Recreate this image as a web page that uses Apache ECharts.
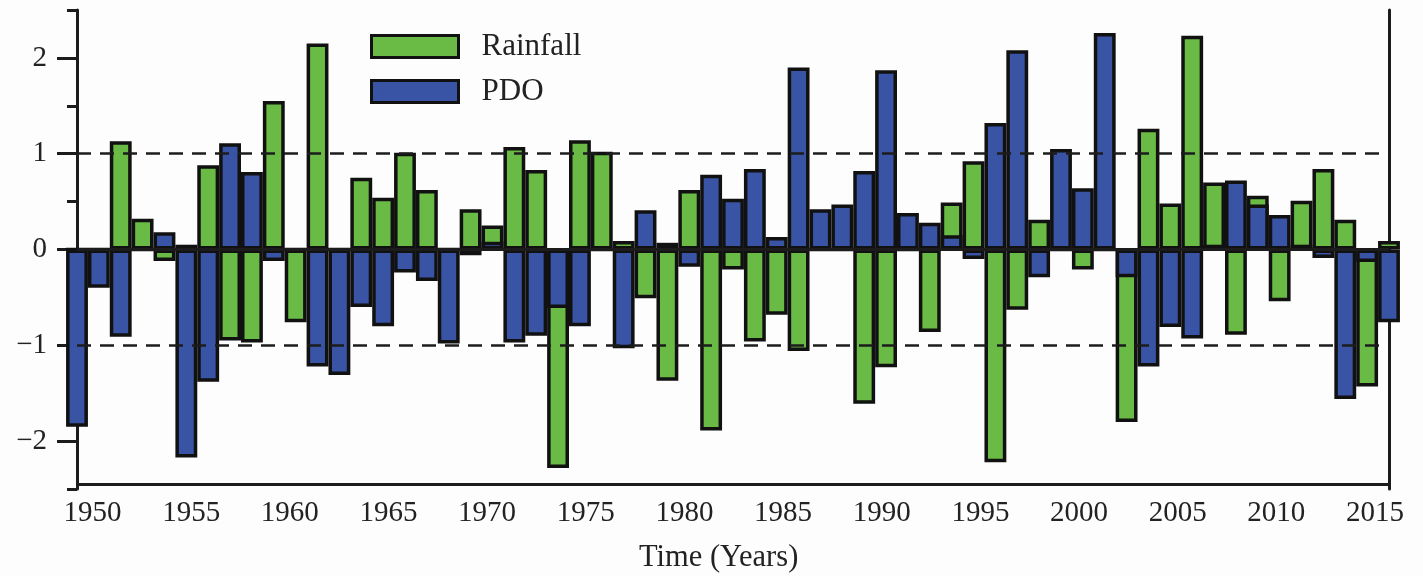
<!DOCTYPE html>
<html>
<head>
<meta charset="utf-8">
<title>Rainfall and PDO anomalies</title>
<script src="https://cdn.jsdelivr.net/npm/echarts@6/dist/echarts.min.js"></script>
<style>
  html, body { margin: 0; padding: 0; background: #fdfdfd; }
  #chart { width: 1423px; height: 576px; }
</style>
</head>
<body>
<div id="chart"></div>
<script>
// Annual bars, one per year
const years = [
  1950, 1951, 1952, 1953, 1954, 1955, 1956, 1957, 1958, 1959,
  1960, 1961, 1962, 1963, 1964, 1965, 1966, 1967, 1968, 1969,
  1970, 1971, 1972, 1973, 1974, 1975, 1976, 1977, 1978, 1979,
  1980, 1981, 1982, 1983, 1984, 1985, 1986, 1987, 1988, 1989,
  1990, 1991, 1992, 1993, 1994, 1995, 1996, 1997, 1998, 1999,
  2000, 2001, 2002, 2003, 2004, 2005, 2006, 2007, 2008, 2009,
  2010
];

// Standardised rainfall anomaly
const rainfall = [
  0, 0, 1.13, 0.32, -0.12, 0.05, 0.88, -0.95, -0.97, 1.55,
  -0.76, 2.15, 0, 0.75, 0.54, 1.01, 0.62, 0, 0.42, 0.25,
  1.07, 0.83, -2.28, 1.14, 1.02, 0.09, -0.51, -1.37, 0.62, -1.89,
  -0.21, -0.96, -0.68, -1.06, 0, 0, -1.61, -1.23, 0, -0.86,
  0.49, 0.92, -2.22, -0.63, 0.31, 0, -0.21, 0, -1.80, 1.26,
  0.48, 2.23, 0.70, -0.89, 0.56, -0.54, 0.51, 0.84, 0.31, -1.43,
  0.09
];

// Pacific Decadal Oscillation index
const pdo = [
  -1.85, -0.40, -0.91, 0, 0.18, -2.17, -1.38, 1.11, 0.81, -0.12,
  0, -1.22, -1.31, -0.60, -0.80, -0.24, -0.33, -0.98, -0.06, 0.08,
  -0.97, -0.90, -0.61, -0.80, 0, -1.03, 0.41, 0.07, -0.18, 0.78,
  0.53, 0.84, 0.13, 1.90, 0.42, 0.47, 0.82, 1.87, 0.38, 0.28,
  0.15, -0.10, 1.32, 2.08, -0.29, 1.05, 0.64, 2.26, -0.29, -1.22,
  -0.81, -0.93, 0.05, 0.72, 0.47, 0.36, 0.05, -0.09, -1.56, -0.13,
  -0.76
];

// Time axis tick labels
const timeTicks = [1950, 1955, 1960, 1965, 1970, 1975, 1980, 1985, 1990, 1995, 2000, 2005, 2010, 2015];
// Value axis labels
const valueTicks = [-2, -1, 0, 1, 2];
// Reference levels
const thresholds = [1, -1];

const INK = '#1c1c1c';
const FONT = '"Liberation Serif", "Times New Roman", serif';
const GREEN = '#6abb46';
const BLUE = '#3954a4';

const chart = echarts.init(document.getElementById('chart'), null, { renderer: 'canvas' });

const barStyle = (color) => ({ color: color, borderColor: '#111', borderWidth: 3.5 });

chart.setOption({
  backgroundColor: '#fdfdfd',
  animation: false,
  title: {
    text: 'Time (Years)',
    left: 639,
    top: 542,
    padding: 0,
    textStyle: { fontFamily: FONT, fontSize: 30.5, fontWeight: 'normal', color: '#222' }
  },
  legend: {
    orient: 'vertical',
    left: 370,
    top: 31,
    padding: 0,
    itemWidth: 87,
    itemHeight: 22,
    itemGap: 14,
    icon: 'rect',
    selectedMode: false,
    itemStyle: { borderColor: '#111', borderWidth: 3 },
    textStyle: { fontFamily: FONT, fontSize: 31, color: '#222', padding: [0, 0, 0, 18] },
    data: ['Rainfall', 'PDO']
  },
  grid: [
    { left: 77, right: 34, top: 10, bottom: 87 },
    // frame for the printed time labels
    { left: 92.5, right: 48, top: 10, bottom: 87 }
  ],
  xAxis: [
    {
      type: 'category',
      gridIndex: 0,
      data: years,
      boundaryGap: false,
      position: 'top',
      axisLine: { show: true, lineStyle: { color: INK, width: 3 } },
      axisTick: { show: false },
      axisLabel: { show: false },
      splitLine: { show: false }
    },
    {
      type: 'value',
      gridIndex: 1,
      min: 1950,
      max: 2015,
      interval: 5,
      axisLine: { show: false },
      axisTick: { show: false },
      splitLine: { show: false },
      axisLabel: {
        show: true,
        margin: 10,
        fontFamily: FONT,
        fontSize: 29,
        color: '#222',
        customValues: timeTicks,
        formatter: (v) => String(v)
      }
    }
  ],
  yAxis: [
    {
      type: 'value',
      gridIndex: 0,
      min: -2.5,
      max: 2.5,
      interval: 0.5,
      position: 'left',
      axisLine: { show: true, lineStyle: { color: INK, width: 3 } },
      axisTick: { show: true, inside: false, length: 10, lineStyle: { color: INK, width: 3 } },
      axisLabel: { show: false },
      splitLine: { show: false }
    },
    {
      type: 'value',
      gridIndex: 0,
      min: -2.5,
      max: 2.5,
      interval: 0.5,
      position: 'left',
      axisLine: { show: false },
      axisTick: { show: true, inside: false, length: 20, customValues: valueTicks, lineStyle: { color: INK, width: 3 } },
      axisLabel: {
        show: true,
        margin: 30,
        fontFamily: FONT,
        fontSize: 29,
        color: '#222',
        customValues: valueTicks,
        formatter: (v) => (v < 0 ? '\u2212' + Math.abs(v) : String(v))
      },
      splitLine: { show: false }
    },
    {
      type: 'value',
      gridIndex: 0,
      min: -2.5,
      max: 2.5,
      position: 'right',
      axisLine: { show: true, lineStyle: { color: INK, width: 3 } },
      axisTick: { show: false },
      axisLabel: { show: false },
      splitLine: { show: false }
    },
    {
      type: 'value',
      gridIndex: 1,
      show: false
    }
  ],
  series: [
    {
      name: 'Rainfall',
      type: 'bar',
      xAxisIndex: 0,
      yAxisIndex: 0,
      data: rainfall,
      barWidth: '100%',
      barGap: '-100%',
      itemStyle: barStyle(GREEN),
      z: 2
    },
    {
      name: 'PDO',
      type: 'bar',
      xAxisIndex: 0,
      yAxisIndex: 0,
      data: pdo,
      barWidth: '100%',
      barGap: '-100%',
      itemStyle: barStyle(BLUE),
      z: 3,
      markLine: {
        silent: true,
        symbol: ['none', 'none'],
        label: { show: false },
        z: 10,
        data: [
          ...thresholds.map((t) => ({ yAxis: t, lineStyle: { type: [14, 9], width: 2.5, color: INK } })),
          { yAxis: 0, lineStyle: { type: 'solid', width: 3, color: INK } },
          { yAxis: -2.45, lineStyle: { type: 'solid', width: 3, color: INK } }
        ]
      }
    }
  ]
});
</script>
</body>
</html>
